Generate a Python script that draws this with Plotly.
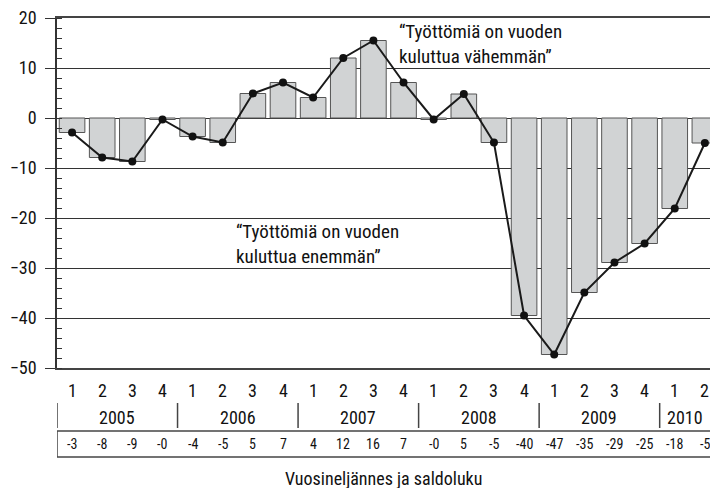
import plotly.graph_objects as go

# ---- data ----
years = ["2005", "2006", "2007", "2008", "2009", "2010"]
quarters = ["1", "2", "3", "4"] * 5 + ["1", "2"]
values = [-2.9, -7.9, -8.7, -0.3, -3.7, -4.9, 4.9, 7.1, 4.1, 12.0, 15.5, 7.1,
          -0.3, 4.8, -4.9, -39.5, -47.3, -34.9, -28.9, -25.1, -18.1, -5.0]
saldo_labels = [f"{v:.0f}" for v in values]
y_ticks = [20, 10, 0, -10, -20, -30, -40, -50]
note_top = "“Työttömiä on vuoden<br>kuluttua vähemmän”"
note_bottom = "“Työttömiä on vuoden<br>kuluttua enemmän”"
x_title = "Vuosineljännes ja saldoluku"

FONT = "Liberation Sans Narrow, Arial Narrow, Roboto Condensed, DejaVu Sans Condensed, Roboto, sans-serif"
DARK = "#333333"
n = len(values)
xs = list(range(n))
x_max = 21.17

fig = go.Figure()
fig.add_trace(go.Bar(
    x=xs, y=values, width=0.85,
    marker=dict(color="#d1d3d4", line=dict(color="#555555", width=1)),
    hoverinfo="skip", showlegend=False,
))
fig.add_trace(go.Scatter(
    x=xs, y=values, mode="lines+markers",
    line=dict(color="#1a1a1a", width=2),
    marker=dict(color="#111111", size=8),
    showlegend=False,
))

plot_top, plot_bottom = 18, 368
def py(p):
    return (plot_bottom - p) / (plot_bottom - plot_top)

annotations = []
shapes = []
for i, q in enumerate(quarters):
    annotations.append(dict(x=i, y=py(390), xref="x", yref="paper", text=q,
                            showarrow=False, font=dict(size=18, color="#111"),
                            xanchor="center", yanchor="middle"))
for i, s in enumerate(saldo_labels):
    annotations.append(dict(x=i, y=py(444), xref="x", yref="paper", text=s,
                            showarrow=False, font=dict(size=14, color="#111"),
                            xanchor="center", yanchor="middle"))
for k, yr in enumerate(years):
    start = k * 4 - 0.5
    end = min(start + 4, x_max)
    annotations.append(dict(x=(start + end) / 2, y=py(417), xref="x", yref="paper",
                            text=yr, showarrow=False, font=dict(size=18, color="#111"),
                            xanchor="center", yanchor="middle"))
    shapes.append(dict(type="line", xref="x", yref="paper", x0=start, x1=start,
                       y0=py(403), y1=py(428), line=dict(color="#444", width=1.5)))
shapes.append(dict(type="line", xref="x", yref="paper", x0=-0.5, x1=x_max,
                   y0=py(431), y1=py(431), line=dict(color="#444", width=1.5)))
shapes.append(dict(type="line", xref="x", yref="paper", x0=-0.5, x1=x_max,
                   y0=py(457), y1=py(457), line=dict(color="#444", width=1.5)))
shapes.append(dict(type="line", xref="x", yref="paper", x0=-0.5, x1=-0.5,
                   y0=py(431), y1=py(457), line=dict(color="#444", width=1.5)))
annotations.append(dict(x=0.5, y=py(478), xref="paper", yref="paper", text=x_title,
                        showarrow=False, font=dict(size=18, color="#111"),
                        xanchor="center", yanchor="middle"))
annotations.append(dict(x=10.78, y=20.0, xref="x", yref="y", text=note_top,
                        showarrow=False, align="left", xanchor="left", yanchor="top",
                        font=dict(size=19, color="#111")))
annotations.append(dict(x=5.38, y=-19.9, xref="x", yref="y", text=note_bottom,
                        showarrow=False, align="left", xanchor="left", yanchor="top",
                        font=dict(size=19, color="#111")))

fig.update_layout(
    width=710, height=488,
    margin=dict(l=57, r=0, t=plot_top, b=488 - plot_bottom, pad=0),
    paper_bgcolor="white", plot_bgcolor="white",
    font=dict(family=FONT, color="#111"),
    bargap=0.15,
    annotations=annotations, shapes=shapes,
    xaxis=dict(range=[-0.5, x_max], showticklabels=False, ticks="", showgrid=False,
               zeroline=False, showline=True, mirror=True, linecolor="#444",
               linewidth=2),
    yaxis=dict(range=[-50, 20], tickvals=y_ticks, ticks="outside", ticklen=10,
               tickcolor=DARK, tickwidth=1, ticklabelstandoff=5,
               tickfont=dict(size=18, color="#111"),
               showgrid=True, gridcolor=DARK, gridwidth=1,
               zeroline=True, zerolinecolor=DARK, zerolinewidth=1.2,
               showline=True, linecolor=DARK, linewidth=1.5,
               minor=dict(dtick=2, ticks="inside", ticklen=5, tickcolor=DARK,
                          showgrid=False)),
)

fig.write_html("out.html", config={"displayModeBar": False},
               post_script="document.body.style.margin='0';document.body.style.overflow='hidden';")
